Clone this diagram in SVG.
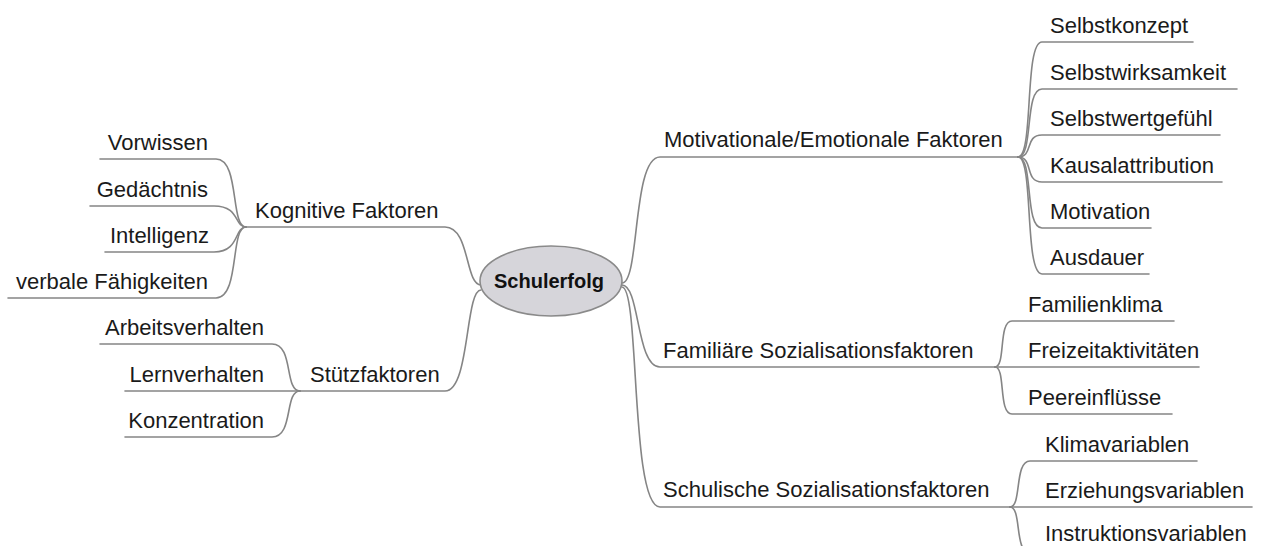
<svg xmlns="http://www.w3.org/2000/svg" width="1262" height="546" viewBox="0 0 1262 546">
<style>
.c{fill:none;stroke:#858585;stroke-width:1.6;stroke-linecap:round}
.t{font-family:"Liberation Sans",Arial,sans-serif;font-size:22px;fill:#1a1a1a}
.e{text-anchor:end}
.root{font-family:"Liberation Sans",Arial,sans-serif;font-size:20px;font-weight:bold;fill:#111;text-anchor:middle}
</style>
<rect width="1262" height="546" fill="#fff"/>
<g id="connectors">
<path class="c" d="M481,285 C465,285 470,227 445,227 L246,227"/>
<path class="c" d="M481,290 C465,290 470,391 445,391 L300,391"/>
<path class="c" d="M622,283 C640,283 632,157 660,157 L1018,157"/>
<path class="c" d="M622,285 C640,285 636,367 660,367 L995,367"/>
<path class="c" d="M622,287 C640,287 630,507 660,507 L1010,507"/>
<path class="c" d="M246,227 C230,227 240,159 216,159 L100,159"/>
<path class="c" d="M246,227 C234,227 240,206 214,206 L90,206"/>
<path class="c" d="M246,227 C234,227 240,252 214,252 L105,252"/>
<path class="c" d="M246,227 C230,227 240,298 216,298 L8,298"/>
<path class="c" d="M300,391 C284,391 294,344 272,344 L100,344"/>
<path class="c" d="M300,391 L125,391"/>
<path class="c" d="M300,391 C284,391 294,437 272,437 L125,437"/>
<path class="c" d="M1018,157 C1034,157 1024,42 1042,42 L1193,42"/>
<path class="c" d="M1018,157 C1034,157 1024,89 1042,89 L1237,89"/>
<path class="c" d="M1018,157 C1034,157 1024,135 1042,135 L1220,135"/>
<path class="c" d="M1018,157 C1034,157 1024,182 1042,182 L1222,182"/>
<path class="c" d="M1018,157 C1034,157 1024,228 1042,228 L1151,228"/>
<path class="c" d="M1018,157 C1034,157 1024,274 1042,274 L1149,274"/>
<path class="c" d="M995,367 C1006,367 998,321 1012,321 L1174,321"/>
<path class="c" d="M995,367 L1199,367"/>
<path class="c" d="M995,367 C1006,367 998,414 1012,414 L1172,414"/>
<path class="c" d="M1010,507 C1022,507 1014,461 1030,461 L1197,461"/>
<path class="c" d="M1010,507 L1252,507"/>
<path class="c" d="M1010,507 C1022,507 1014,553 1030,553 L1262,553"/>
</g>
<g id="root">
<ellipse cx="551" cy="281" rx="71" ry="35" fill="#d6d5da" stroke="#8a8a8a" stroke-width="1.6"/>
<text class="root" x="549" y="288">Schulerfolg</text>
</g>
<g id="kognitive"><text class="t" x="255" y="218">Kognitive Faktoren</text></g>
<g id="vorwissen"><text class="t e" x="208" y="150">Vorwissen</text></g>
<g id="gedaechtnis"><text class="t e" x="208" y="197">Gedächtnis</text></g>
<g id="intelligenz"><text class="t e" x="209" y="243">Intelligenz</text></g>
<g id="verbale"><text class="t e" x="208" y="289">verbale Fähigkeiten</text></g>
<g id="stuetz"><text class="t" x="310" y="382">Stützfaktoren</text></g>
<g id="arbeits"><text class="t e" x="264" y="335">Arbeitsverhalten</text></g>
<g id="lern"><text class="t e" x="264" y="382">Lernverhalten</text></g>
<g id="konz"><text class="t e" x="264" y="428">Konzentration</text></g>
<g id="motiv"><text class="t" x="664" y="147">Motivationale/Emotionale Faktoren</text></g>
<g id="selbstkonzept"><text class="t" x="1050" y="33">Selbstkonzept</text></g>
<g id="selbstwirk"><text class="t" x="1050" y="80">Selbstwirksamkeit</text></g>
<g id="selbstwert"><text class="t" x="1050" y="126">Selbstwertgefühl</text></g>
<g id="kausal"><text class="t" x="1050" y="173">Kausalattribution</text></g>
<g id="motivation"><text class="t" x="1050" y="219">Motivation</text></g>
<g id="ausdauer"><text class="t" x="1050" y="265">Ausdauer</text></g>
<g id="familiaer"><text class="t" x="663" y="358">Familiäre Sozialisationsfaktoren</text></g>
<g id="familienklima"><text class="t" x="1028" y="312">Familienklima</text></g>
<g id="freizeit"><text class="t" x="1028" y="358">Freizeitaktivitäten</text></g>
<g id="peer"><text class="t" x="1028" y="405">Peereinflüsse</text></g>
<g id="schulisch"><text class="t" x="663" y="497">Schulische Sozialisationsfaktoren</text></g>
<g id="klima"><text class="t" x="1045" y="452">Klimavariablen</text></g>
<g id="erziehung"><text class="t" x="1045" y="498">Erziehungsvariablen</text></g>
<g id="instruktion"><text class="t" x="1045" y="541">Instruktionsvariablen</text></g>
</svg>
